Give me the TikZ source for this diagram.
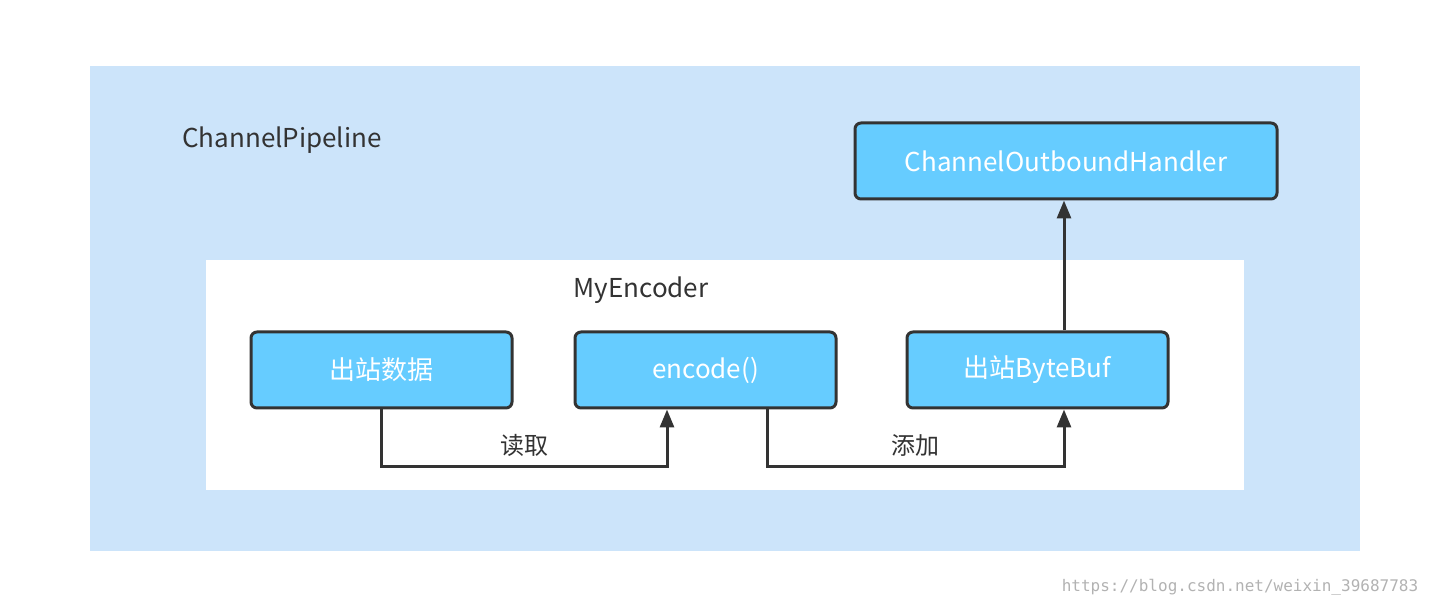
\documentclass[tikz,border=0pt]{standalone}
\usepackage{fontspec}
\setmainfont{Noto Sans CJK SC}
\newfontfamily\wmfont{DejaVu Sans Mono}
\usetikzlibrary{arrows.meta}
\definecolor{pipebg}{HTML}{CCE4FA}
\definecolor{boxfill}{HTML}{66CCFF}
\definecolor{edge}{HTML}{333333}
\tikzset{
  box/.style={draw=edge, line width=1.5pt, rounded corners=3pt, fill=boxfill,
    minimum width=130.5pt, minimum height=38pt, text=white, font=\fontsize{13}{15}\selectfont},
  flow/.style={draw=edge, line width=1.5pt, -{Triangle[length=9pt,width=7pt]}},
  lbl/.style={text=edge, font=\fontsize{12}{14}\selectfont}
}
\begin{document}
\begin{tikzpicture}[x=0.5pt,y=-0.5pt]
  \useasboundingbox (0,0) rectangle (1448,608);
  % pipeline and encoder areas
  \fill[pipebg] (90,66) rectangle (1360,551);
  \fill[white] (206,260) rectangle (1244,490);
  \node[lbl, font=\fontsize{13}{15}\selectfont] (pipe) at (282,140) {ChannelPipeline};
  \node[lbl, font=\fontsize{13}{15}\selectfont] (enc) at (641,290) {MyEncoder};
  % boxes
  \node[box, minimum width=211pt] (handler) at (1066,161) {ChannelOutboundHandler};
  \node[box] (data) at (381.5,370) {出站数据};
  \node[box] (encode) at (705.5,370) {encode()};
  \node[box] (buf) at (1037.5,370) {出站ByteBuf};
  % connectors
  \coordinate (c1) at (381,467);
  \coordinate (c2) at (667,467);
  \coordinate (c3) at (767,467);
  \coordinate (c4) at (1064,467);
  \draw[flow] (data.south -| c1) -- (c1) -- node[lbl, above=1pt] {读取} (c2) -- (encode.south -| c2);
  \draw[flow] (encode.south -| c3) -- (c3) -- node[lbl, above=1pt] {添加} (c4) -- (buf.south -| c4);
  \draw[flow] (buf.north -| c4) -- (handler.south -| c4);
  \node[text=gray!60, font=\wmfont\fontsize{8}{10}\selectfont] (mark) at (1240,587) {https://blog.csdn.net/weixin\_39687783};
\end{tikzpicture}
\end{document}
